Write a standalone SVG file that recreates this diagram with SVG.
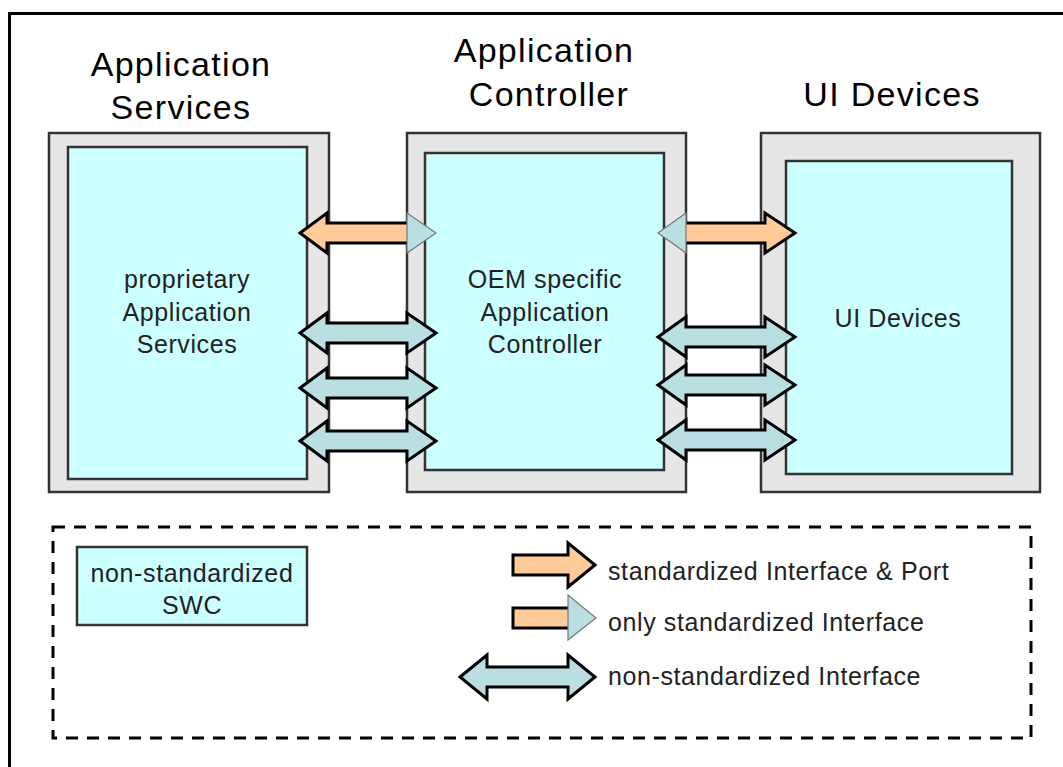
<svg xmlns="http://www.w3.org/2000/svg" width="1063" height="767" viewBox="0 0 1063 767">
<style>
text{font-family:"Liberation Sans",Arial,sans-serif;fill:#000}
.title{font-size:34px;letter-spacing:1.3px;text-anchor:middle}
.inner{font-size:25px;letter-spacing:0.6px;text-anchor:middle;fill:#222}
.leg{font-size:25px;letter-spacing:0.6px;fill:#222}
.outer{fill:#E6E6E6;stroke:#333;stroke-width:2.5}
.swc{fill:#CCFFFF;stroke:#333;stroke-width:2.5}
.bl{fill:#B9DFE3;stroke:#000;stroke-width:3;stroke-linejoin:miter}
.or{fill:#FFCC99;stroke:none}
.ol{fill:none;stroke:#000;stroke-width:3;stroke-linejoin:miter}
.tri{fill:#B9DFE3;stroke:#777;stroke-width:1.2}
</style>
<rect x="0" y="0" width="1063" height="767" fill="#FFFFFF"/>
<rect x="9.5" y="13.5" width="1100" height="800" fill="none" stroke="#000" stroke-width="3"/>

<g id="title-app-services"><text class="title" x="181" y="76">Application</text><text class="title" x="181" y="119">Services</text></g>
<g id="title-app-controller"><text class="title" x="544" y="62">Application</text><text class="title" x="549" y="106">Controller</text></g>
<g id="title-ui-devices"><text class="title" x="892" y="106">UI Devices</text></g>

<g id="node-app-services">
<rect class="outer" x="49" y="133" width="280" height="359"/>
<rect class="swc" x="68" y="147" width="239" height="332"/>
<text class="inner" x="187" y="288">proprietary</text>
<text class="inner" x="187" y="321">Application</text>
<text class="inner" x="187" y="353">Services</text>
</g>
<g id="node-app-controller">
<rect class="outer" x="407" y="133" width="279" height="359"/>
<rect class="swc" x="425" y="153" width="239" height="317"/>
<text class="inner" x="545" y="288">OEM specific</text>
<text class="inner" x="545" y="321">Application</text>
<text class="inner" x="545" y="353">Controller</text>
</g>
<g id="node-ui-devices">
<rect class="outer" x="761" y="133" width="279" height="359"/>
<rect class="swc" x="786" y="161" width="226" height="313"/>
<text class="inner" x="898" y="327">UI Devices</text>
</g>

<g id="connectors">
<path class="or" d="M300,233 L327,213 L327,223 L407,223 L407,243 L327,243 L327,253 Z"/>
<path class="ol" d="M407,223 L327,223 L327,213 L300,233 L327,253 L327,243 L407,243"/>
<path class="tri" d="M407,213 L436,233 L407,253 Z"/>
<path class="bl" d="M300,333 L327,313 L327,323 L407,323 L407,313 L436,333 L407,353 L407,343 L327,343 L327,353 Z"/>
<path class="bl" d="M300,388 L327,368 L327,378 L407,378 L407,368 L436,388 L407,408 L407,398 L327,398 L327,408 Z"/>
<path class="bl" d="M300,441 L327,421 L327,431 L407,431 L407,421 L436,441 L407,461 L407,451 L327,451 L327,461 Z"/>
<path class="or" d="M686,223 L765,223 L765,213 L795,233 L765,253 L765,243 L686,243 Z"/>
<path class="ol" d="M686,223 L765,223 L765,213 L795,233 L765,253 L765,243 L686,243"/>
<path class="tri" d="M686,213 L658,233 L686,253 Z"/>
<path class="bl" d="M658,337 L686,317 L686,327 L765,327 L765,317 L795,337 L765,357 L765,347 L686,347 L686,357 Z"/>
<path class="bl" d="M658,385 L686,365 L686,375 L765,375 L765,365 L795,385 L765,405 L765,395 L686,395 L686,405 Z"/>
<path class="bl" d="M658,440 L686,420 L686,430 L765,430 L765,420 L795,440 L765,460 L765,450 L686,450 L686,460 Z"/>
</g>

<g id="legend">
<rect x="53" y="527" width="978" height="211" fill="none" stroke="#000" stroke-width="3" stroke-dasharray="12,9"/>
<rect class="swc" x="77" y="547" width="230" height="78"/>
<text class="inner" x="192" y="582">non-standardized</text>
<text class="inner" x="192" y="614">SWC</text>
<path class="or" d="M513,555 L568,555 L568,543 L595,565 L568,587 L568,575 L513,575 Z"/>
<path class="ol" d="M513,555 L568,555 L568,543 L595,565 L568,587 L568,575 L513,575 Z"/>
<text class="leg" x="608" y="580">standardized Interface &amp; Port</text>
<path class="or" d="M513,608 L568,608 L568,628 L513,628 Z"/>
<path class="ol" d="M568,608 L513,608 L513,628 L568,628"/>
<path class="tri" d="M568,595 L596,618 L568,640 Z"/>
<text class="leg" x="608" y="631">only standardized Interface</text>
<path class="bl" d="M460,677 L487,655 L487,667 L568,667 L568,655 L595,677 L568,699 L568,687 L487,687 L487,699 Z"/>
<text class="leg" x="608" y="685">non-standardized Interface</text>
</g>
</svg>
